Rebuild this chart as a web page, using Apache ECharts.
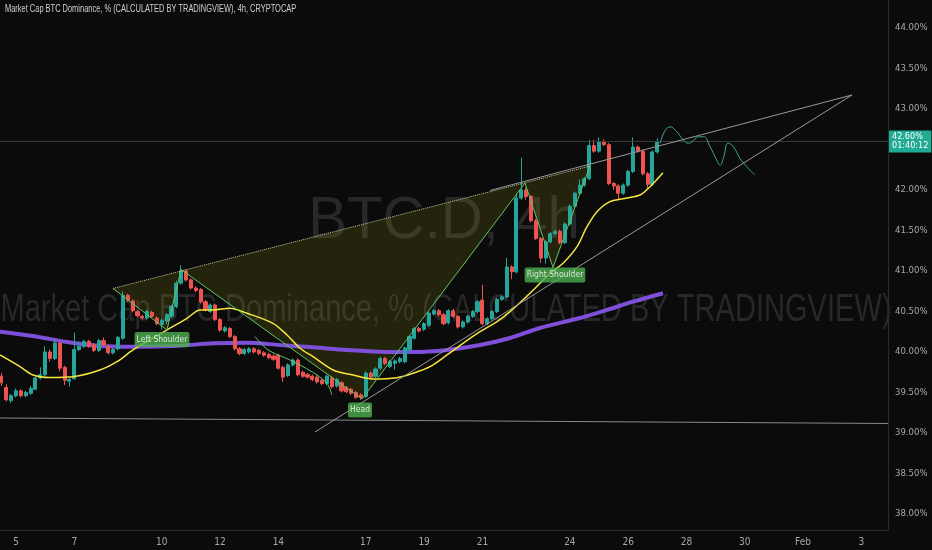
<!DOCTYPE html>
<html><head><meta charset="utf-8">
<script src="https://cdn.jsdelivr.net/npm/echarts@6/dist/echarts.min.js"></script>
<style>html,body{margin:0;padding:0;background:#0b0b0b}#c{width:932px;height:550px}</style>
</head><body><div id="c"></div>
<script>
// time unit: day-of-month (January), 5 = Jan 5 00:00 ; Feb 1 = 32
const startDay = 4.5;          // first 4h candle: Jan 4 12:00
const stepDay = 1 / 6;         // 4h candles
const opens = [39.70,39.56,39.40,39.46,39.52,39.46,39.49,39.54,39.68,39.72,40.00,39.92,40.11,39.81,39.64,39.67,40.03,40.07,40.13,40.09,40.02,40.14,40.07,39.99,40.04,40.17,40.70,40.63,40.50,40.44,40.42,40.49,40.42,40.34,40.38,40.44,40.56,40.85,41.00,40.89,40.79,40.77,40.62,40.50,40.58,40.40,40.26,40.29,40.19,40.04,39.98,40.00,40.04,40.02,39.99,39.97,39.95,39.96,39.81,39.71,39.84,39.90,39.75,39.72,39.70,39.69,39.65,39.61,39.68,39.58,39.62,39.56,39.54,39.50,39.47,39.45,39.74,39.70,39.80,39.92,39.82,39.86,39.88,39.88,40.03,40.17,40.29,40.28,40.33,40.47,40.51,40.46,40.36,40.51,40.44,40.31,40.37,40.44,40.50,40.64,40.35,40.41,40.50,40.65,40.68,41.05,40.99,41.90,42.00,41.92,41.62,41.40,41.16,41.36,41.46,41.49,41.35,41.58,41.80,41.96,42.06,42.14,42.55,42.48,42.60,42.56,42.08,42.05,41.96,42.06,42.23,42.53,42.48,42.20,42.07,42.47];
const closes = [39.62,39.41,39.46,39.52,39.46,39.50,39.55,39.68,39.72,40.00,39.92,40.11,39.80,39.65,39.66,40.03,40.07,40.13,40.07,40.02,40.14,40.09,39.99,40.03,40.18,40.70,40.64,40.51,40.45,40.42,40.50,40.44,40.35,40.39,40.46,40.56,40.85,41.00,40.89,40.79,40.76,40.62,40.52,40.58,40.40,40.27,40.30,40.19,40.04,39.98,40.03,40.04,40.00,39.98,39.96,39.93,39.91,39.80,39.69,39.84,39.90,39.72,39.70,39.69,39.66,39.63,39.61,39.70,39.57,39.66,39.52,39.51,39.49,39.44,39.44,39.74,39.69,39.79,39.92,39.86,39.88,39.89,39.92,40.05,40.19,40.29,40.26,40.35,40.48,40.51,40.46,40.35,40.51,40.44,40.31,40.37,40.44,40.50,40.62,40.35,40.41,40.50,40.65,40.68,41.05,40.99,41.90,42.00,41.92,41.62,41.40,41.16,41.36,41.46,41.49,41.35,41.58,41.80,41.96,42.06,42.14,42.55,42.48,42.60,42.56,42.08,42.05,41.96,42.06,42.23,42.53,42.48,42.20,42.07,42.47,42.60];
const lows = [39.58,39.39,39.37,39.44,39.44,39.44,39.47,39.53,39.66,39.70,39.88,39.90,39.76,39.59,39.57,39.66,40.01,40.05,40.05,40.00,40.00,40.07,39.97,39.97,40.02,40.15,40.62,40.49,40.43,40.40,40.40,40.42,40.33,40.28,40.34,40.42,40.54,40.83,40.87,40.77,40.74,40.60,40.50,40.48,40.38,40.25,40.24,40.17,40.02,39.96,39.96,39.98,39.98,39.96,39.94,39.91,39.89,39.78,39.63,39.69,39.82,39.70,39.68,39.67,39.64,39.61,39.59,39.59,39.55,39.56,39.50,39.49,39.47,39.42,39.41,39.43,39.67,39.68,39.78,39.84,39.80,39.78,39.86,39.86,40.01,40.15,40.24,40.26,40.31,40.45,40.44,40.33,40.34,40.42,40.29,40.29,40.35,40.42,40.48,40.33,40.33,40.39,40.48,40.63,40.66,40.90,40.97,41.88,41.88,41.60,41.38,41.10,41.09,41.34,41.44,41.33,41.33,41.56,41.78,41.94,42.04,42.12,42.46,42.46,42.54,42.06,42.00,41.88,41.94,42.04,42.21,42.46,42.18,42.02,42.05,42.45];
const highs = [39.74,39.60,39.48,39.55,39.54,39.52,39.58,39.70,39.81,40.07,40.03,40.15,40.13,39.83,39.68,40.24,40.13,40.15,40.15,40.11,40.16,40.18,40.09,40.05,40.20,40.75,40.72,40.65,40.52,40.46,40.52,40.51,40.44,40.41,40.48,40.58,40.88,41.07,41.02,40.91,40.81,40.79,40.64,40.60,40.60,40.42,40.32,40.31,40.21,40.06,40.05,40.06,40.06,40.04,40.01,39.99,39.97,39.98,39.83,39.86,39.92,39.92,39.77,39.74,39.72,39.71,39.67,39.72,39.70,39.68,39.64,39.58,39.56,39.52,39.49,39.76,39.76,39.81,39.94,39.94,39.90,39.91,39.94,40.07,40.21,40.31,40.31,40.37,40.50,40.53,40.53,40.48,40.53,40.53,40.46,40.39,40.46,40.52,40.64,40.83,40.43,40.52,40.67,40.70,41.16,41.07,41.96,42.40,42.03,41.94,41.64,41.42,41.38,41.48,41.51,41.51,41.60,41.82,41.98,42.13,42.16,42.62,42.62,42.65,42.63,42.58,42.10,42.07,42.08,42.25,42.65,42.55,42.50,42.22,42.49,42.64];

// indicator lines
const emaFastDays = [4.451,5.137,5.583,6.166,6.955,7.882,8.465,9.014,9.597,10.180,10.866,11.312,11.758,12.341,12.925,13.816,14.297,14.743,15.189,15.875,16.561,17.247,18.070,18.619,19.202,19.786,20.334,20.918,21.501,21.947,22.633,23.319,23.765,24.245,24.588,24.931,25.377,25.960,26.406,26.749,27.195];
const emaFastValues = [39.963,39.819,39.716,39.685,39.695,39.778,39.880,40.025,40.148,40.272,40.416,40.519,40.519,40.540,40.478,40.354,40.210,40.046,39.942,39.778,39.716,39.667,39.683,39.737,39.819,39.963,40.107,40.251,40.374,40.498,40.725,40.972,41.095,41.300,41.547,41.732,41.856,41.901,41.938,42.041,42.214];
const emaSlowDays = [4.451,5.583,6.750,7.882,9.014,10.455,11.758,12.925,14.057,15.189,16.355,17.487,18.619,19.786,20.918,21.947,22.976,24.348,25.274,26.166,27.195];
const emaSlowValues = [40.251,40.198,40.123,40.074,40.065,40.074,40.107,40.115,40.086,40.058,40.025,40.004,40.000,40.025,40.086,40.173,40.296,40.420,40.519,40.621,40.725];

// drawings
const patternDays = [8.328,10.180,10.660,16.870,22.461,23.422,24.691];
const patternValues = [40.784,40.272,41.019,39.420,42.086,41.043,42.296];
const headLegDays = [13.199,13.645,14.400,14.846,15.326,15.669,15.840];
const headLegValues = [40.189,40.025,39.901,39.819,39.716,39.614,39.469];
const upperTrendDays = [21.261,33.679];
const upperTrendValues = [41.994,43.173];
const lowerTrendDays = [15.257,33.679];
const lowerTrendValues = [39.012,43.173];
const floorDays = [4.451,34.914];
const floorValues = [39.185,39.117];
const pathDays = [27.093,27.436,27.666,27.892,28.063,28.235,28.406,28.578,28.808,29.038,29.151,29.264,29.436,29.607,29.837,30.067,30.352];
const pathValues = [42.577,42.781,42.720,42.617,42.577,42.609,42.658,42.658,42.535,42.370,42.309,42.391,42.577,42.535,42.391,42.288,42.185];
const labelNames = ['Left Shoulder','Head','Right Shoulder'];
const labelDays = [10.009,16.801,23.490];
const labelValues = [40.154,39.284,40.951];

const xTickDays = [5,7,10,12,14,17,19,21,24,26,28,30,32,34];
const xTickLabels = ['5','7','10','12','14','17','19','21','24','26','28','30','Feb','3'];
const yTicks = [38,38.5,39,39.5,40,40.5,41,41.5,42,42.5,43,43.5,44];
const lastPrice = 42.60;
const countdown = '01:40:12';
const titleText = 'Market Cap BTC Dominance, % (CALCULATED BY TRADINGVIEW), 4h, CRYPTOCAP';

const NARROW = "'Liberation Sans Narrow','DejaVu Sans Condensed','Arial Narrow','Liberation Sans',sans-serif";

const candles = opens.map((o, k) => [startDay + k * stepDay, o, closes[k], lows[k], highs[k]]);
const zip = (a, b) => a.map((d, i) => [d, b[i]]);

const chart = echarts.init(document.getElementById('c'), null, {renderer: 'canvas'});
chart.setOption({
  backgroundColor: '#0b0b0b',
  animation: false,
  grid: {left: 0, right: 44, top: 0, bottom: 20},
  xAxis: {
    type: 'value', min: 4.451, max: 34.914,
    axisLine: {show: true, lineStyle: {color: '#2a2a2a'}},
    axisTick: {show: false},
    splitLine: {show: false},
    axisLabel: {
      customValues: xTickDays, margin: 7, color: '#a8a8a8', fontSize: 10, fontFamily: NARROW,
      formatter: v => xTickLabels[xTickDays.indexOf(Math.round(v))] || ''
    }
  },
  yAxis: {
    type: 'value', position: 'right', min: 37.802, max: 44.346, scale: true,
    axisLine: {show: true, lineStyle: {color: '#2a2a2a'}},
    axisTick: {show: false},
    splitLine: {show: false},
    axisLabel: {
      customValues: yTicks, margin: 7, color: '#a8a8a8', fontSize: 9.5, fontFamily: NARROW,
      formatter: v => v.toFixed(2) + '%'
    }
  },
  graphic: [
    {type: 'text', x: 5, y: 4, scaleX: 0.71, z: 10,
     style: {text: titleText, fill: '#cfcfcf', font: "10.5px 'Liberation Sans'"}},
    {type: 'text', x: 444, y: 221, scaleX: 0.97, z: 0, silent: true,
     style: {text: 'BTC.D, 4h', fill: '#282828', font: "60px 'Liberation Sans'", align: 'center', verticalAlign: 'middle'}},
    {type: 'text', x: 446, y: 311, scaleX: 0.765, z: 0, silent: true,
     style: {text: 'Market Cap BTC Dominance, % (CALCULATED BY TRADINGVIEW)', fill: '#282828', font: "38px 'Liberation Sans'", align: 'center', verticalAlign: 'middle'}}
  ],
  series: [
    {type: 'custom', silent: true, z: 1,
     data: [[patternDays[0], patternValues[0]]],
     renderItem: (params, api) => ({
       type: 'polygon',
       shape: {points: patternDays.map((d, i) => api.coord([d, patternValues[i]]))},
       style: {fill: 'rgba(140,140,20,0.2)'}
     })},
    {type: 'line', data: zip(floorDays, floorValues), symbol: 'none', silent: true, z: 2,
     lineStyle: {color: '#8a8a8a', width: 1}},
    {type: 'line', data: zip(emaSlowDays, emaSlowValues), symbol: 'none', smooth: 0.3, silent: true, z: 2,
     lineStyle: {color: '#7e4fd8', width: 4}},
    {type: 'candlestick', data: candles, encode: {x: 0, y: [1, 2, 3, 4]}, barWidth: 3.6, z: 3,
     itemStyle: {color: '#26a69a', color0: '#ef5350', borderColor: '#26a69a', borderColor0: '#ef5350', borderWidth: 1},
     markLine: {
       symbol: 'none', silent: true, animation: false,
       data: [{yAxis: lastPrice}],
       lineStyle: {color: '#3a3a3a', width: 1, type: 'solid'},
       label: {position: 'end', distance: 1, formatter: lastPrice.toFixed(2) + '%\n' + countdown,
               backgroundColor: '#22ab94', color: '#ffffff', padding: [2, 3], fontSize: 9, lineHeight: 9, fontFamily: NARROW}
     }},
    {type: 'line', data: zip(emaFastDays, emaFastValues), symbol: 'none', smooth: 0.3, silent: true, z: 4,
     lineStyle: {color: '#f5e63c', width: 1.5}},
    {type: 'line', data: zip(patternDays, patternValues), symbol: 'none', silent: true, z: 5,
     lineStyle: {color: '#62c462', width: 1}},
    {type: 'line', data: [[patternDays[0], patternValues[0]], [patternDays[6], patternValues[6]]], symbol: 'none', silent: true, z: 5,
     lineStyle: {color: '#c9c9a0', width: 1, type: 'dotted'}},
    {type: 'line', data: zip(headLegDays, headLegValues), symbol: 'none', smooth: 0.3, silent: true, z: 5,
     lineStyle: {color: '#62c462', width: 1}},
    {type: 'line', data: zip(upperTrendDays, upperTrendValues), symbol: 'none', silent: true, z: 5,
     lineStyle: {color: '#9a9a9a', width: 1}},
    {type: 'line', data: zip(lowerTrendDays, lowerTrendValues), symbol: 'none', silent: true, z: 5,
     lineStyle: {color: '#9a9a9a', width: 1}},
    {type: 'line', data: zip(pathDays, pathValues), symbol: 'none', smooth: 0.5, silent: true, z: 5,
     lineStyle: {color: '#3aa88a', width: 1}},
    {type: 'scatter', data: labelDays.map((d, i) => [d, labelValues[i], labelNames[i]]), symbol: 'circle', symbolSize: 1, z: 6,
     itemStyle: {color: 'rgba(0,0,0,0)'},
     label: {show: true, position: 'inside', formatter: p => p.data[2], color: '#ffffff', fontSize: 8.5,
             fontFamily: NARROW, backgroundColor: '#4caf50', padding: [3, 2], borderRadius: 2}}
  ]
});
</script></body></html>
